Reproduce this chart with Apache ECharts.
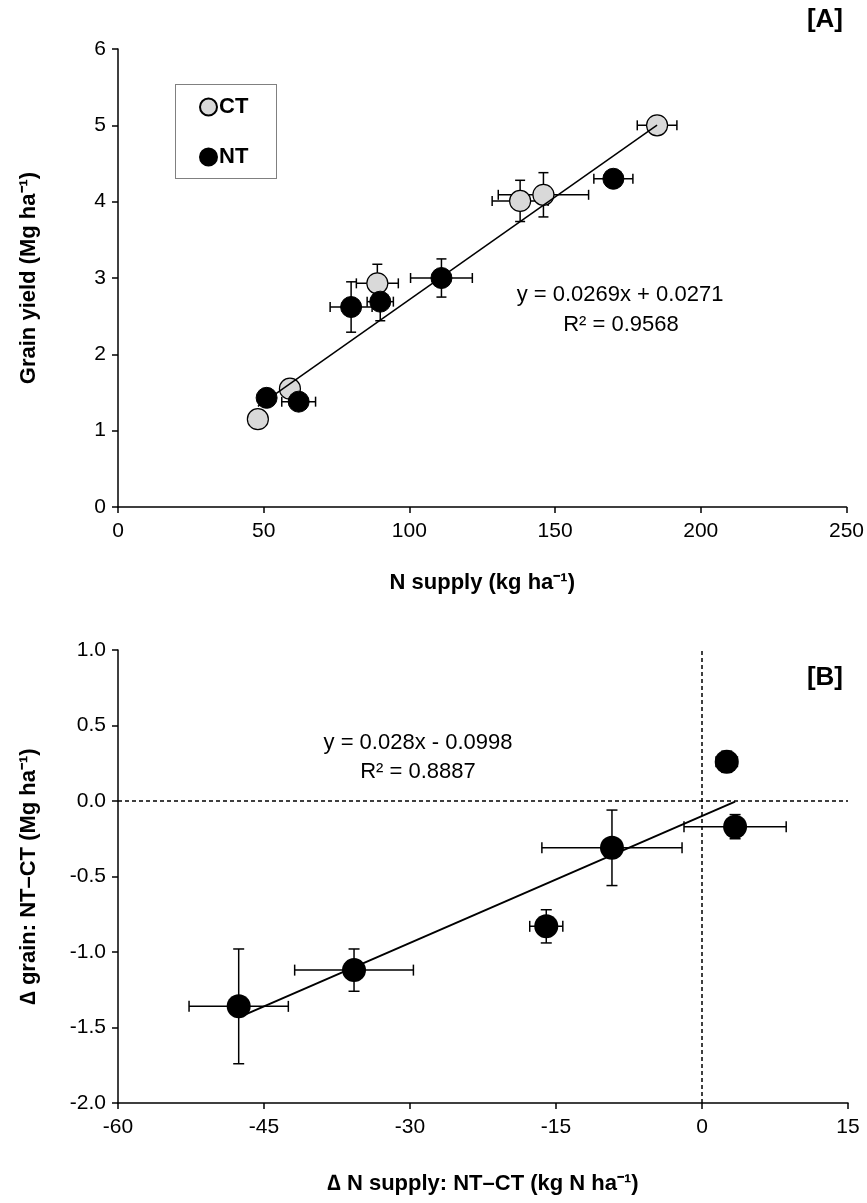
<!DOCTYPE html>
<html>
<head>
<meta charset="utf-8">
<script src="https://cdn.jsdelivr.net/npm/echarts@6/dist/echarts.min.js"></script>
<style>
	html, body { margin: 0; padding: 0; background: #fff; }
	#main { width: 867px; height: 1203px; }
</style>
</head>
<body>
<div id="main"></div>
<script>
	// [A] grain yield vs N supply
	const ctSupply = [48, 59, 89, 138, 146, 185];
	const ctYield = [1.15, 1.55, 2.93, 4.01, 4.09, 5.0];
	const ctSupplyErr = [0, 0, 7.2, 9.6, 15.5, 6.8];
	const ctYieldErr = [0, 0, 0.25, 0.27, 0.29, 0];
	const ntSupply = [51, 62, 80, 90, 111, 170];
	const ntYield = [1.43, 1.38, 2.62, 2.69, 3.0, 4.3];
	const ntSupplyErr = [0, 5.8, 7.2, 4.5, 10.6, 6.7];
	const ntYieldErr = [0, 0.05, 0.33, 0.25, 0.25, 0.08];
	const fitA = { slope: 0.0269, intercept: 0.0271, r2: '0.9568' };

	// [B] NT-CT differences
	const dSupply = [-47.6, -35.75, -16, -9.25, 2.54, 3.4];
	const dGrain = [-1.36, -1.12, -0.83, -0.31, 0.26, -0.17];
	const dSupplyErr = [5.1, 6.1, 1.7, 7.2, 1.1, 5.25];
	const dGrainErr = [0.38, 0.14, 0.11, 0.25, 0.07, 0.08];
	const fitB = { slope: 0.028, intercept: -0.0998, r2: '0.8887' };

	const FONT = '"Liberation Sans", Arial, sans-serif';

	function zip(xs, ys, ex, ey) {
		return xs.map((v, i) => [v, ys[i], ex[i], ey[i]]);
	}

	// 趋势线两端点
	function fitLine(fit, xs) {
		let a = Math.min(...xs), b = Math.max(...xs);
		return [[a, fit.slope * a + fit.intercept], [b, fit.slope * b + fit.intercept]];
	}

	// 误差线
	function errRender(cap, width) {
		return function (params, api) {
			let x = api.value(0), y = api.value(1), ex = api.value(2), ey = api.value(3);
			let st = { stroke: '#000', lineWidth: width };
			let kids = [];
			if (ex > 0) {
				let l = api.coord([x - ex, y]), r = api.coord([x + ex, y]);
				kids.push({ type: 'line', shape: { x1: l[0], y1: l[1], x2: r[0], y2: r[1] }, style: st });
				kids.push({ type: 'line', shape: { x1: l[0], y1: l[1] - cap, x2: l[0], y2: l[1] + cap }, style: st });
				kids.push({ type: 'line', shape: { x1: r[0], y1: r[1] - cap, x2: r[0], y2: r[1] + cap }, style: st });
			}
			if (ey > 0) {
				let t = api.coord([x, y + ey]), b = api.coord([x, y - ey]);
				kids.push({ type: 'line', shape: { x1: t[0], y1: t[1], x2: b[0], y2: b[1] }, style: st });
				kids.push({ type: 'line', shape: { x1: t[0] - cap, y1: t[1], x2: t[0] + cap, y2: t[1] }, style: st });
				kids.push({ type: 'line', shape: { x1: b[0] - cap, y1: b[1], x2: b[0] + cap, y2: b[1] }, style: st });
			}
			return { type: 'group', children: kids };
		};
	}

	function axisBase(extra) {
		return Object.assign({
			type: 'value',
			axisLine: { onZero: false, lineStyle: { color: '#000', width: 1.5 } },
			axisTick: { inside: false, length: 6, lineStyle: { color: '#000', width: 1.5 } },
			splitLine: { show: false },
			nameLocation: 'middle',
			nameTextStyle: { color: '#000', fontSize: 22, fontWeight: 'bold', fontFamily: FONT }
		}, extra);
	}

	let tickFont = { color: '#000', fontSize: 21, fontFamily: FONT };

	let option = {
		backgroundColor: '#fff',
		animation: false,
		textStyle: { fontFamily: FONT },
		grid: [
			{ left: 118, right: 19, top: 49, height: 458 },
			{ left: 118, right: 19, top: 650, height: 453 }
		],
		xAxis: [
			axisBase({ gridIndex: 0, min: 0, max: 250, interval: 50, name: 'N supply (kg ha⁻¹)', nameGap: 65,
				axisLabel: Object.assign({ margin: 14 }, tickFont) }),
			axisBase({ gridIndex: 1, min: -60, max: 15, interval: 15, name: '∆ N supply: NT–CT (kg N ha⁻¹)', nameGap: 70,
				axisLabel: Object.assign({ margin: 14 }, tickFont) })
		],
		yAxis: [
			axisBase({ gridIndex: 0, min: 0, max: 6, interval: 1, name: 'Grain yield (Mg ha⁻¹)', nameGap: 78,
				axisLabel: Object.assign({ margin: 12 }, tickFont) }),
			axisBase({ gridIndex: 1, min: -2, max: 1, interval: 0.5, name: '∆ grain: NT–CT (Mg ha⁻¹)', nameGap: 78,
				axisLabel: Object.assign({ margin: 12, formatter: v => v.toFixed(1) }, tickFont) })
		],
		legend: {
			data: ['CT', 'NT'],
			orient: 'vertical',
			left: 194,
			top: 91,
			itemWidth: 17,
			itemHeight: 17,
			itemGap: 28,
			textStyle: { color: '#000', fontSize: 22, fontWeight: 'bold', fontFamily: FONT, lineHeight: 22, padding: [0, 0, 0, -3] }
		},
		graphic: [
			{ type: 'rect', left: 173, top: 82, shape: { width: 101, height: 94 },
				style: { fill: 'none', stroke: '#000', lineWidth: 1, lineDash: [1, 1] } },
			{ type: 'text', x: 843, y: 20, style: { text: '[A]', font: 'bold 26px ' + FONT, fill: '#000', align: 'right', verticalAlign: 'middle' } },
			{ type: 'text', x: 843, y: 678, style: { text: '[B]', font: 'bold 26px ' + FONT, fill: '#000', align: 'right', verticalAlign: 'middle' } },
			{ type: 'text', x: 620, y: 295, style: { text: 'y = ' + fitA.slope + 'x + ' + fitA.intercept, font: '22px ' + FONT, fill: '#000', align: 'center', verticalAlign: 'middle' } },
			{ type: 'text', x: 621, y: 325, style: { text: 'R² = ' + fitA.r2, font: '22px ' + FONT, fill: '#000', align: 'center', verticalAlign: 'middle' } },
			{ type: 'text', x: 418, y: 743, style: { text: 'y = ' + fitB.slope + 'x - ' + Math.abs(fitB.intercept), font: '22px ' + FONT, fill: '#000', align: 'center', verticalAlign: 'middle' } },
			{ type: 'text', x: 418, y: 772, style: { text: 'R² = ' + fitB.r2, font: '22px ' + FONT, fill: '#000', align: 'center', verticalAlign: 'middle' } }
		],
		series: [
			{
				type: 'custom', xAxisIndex: 0, yAxisIndex: 0, z: 2, silent: true,
				renderItem: errRender(5, 1.5),
				encode: { x: 0, y: 1 },
				data: zip(ctSupply, ctYield, ctSupplyErr, ctYieldErr).concat(zip(ntSupply, ntYield, ntSupplyErr, ntYieldErr))
			},
			{
				name: 'CT', type: 'scatter', xAxisIndex: 0, yAxisIndex: 0, z: 3,
				symbol: 'circle', symbolSize: 21,
				itemStyle: { color: '#d9d9d9', borderColor: '#000', borderWidth: 1.2, opacity: 1 },
				data: ctSupply.map((v, i) => [v, ctYield[i]])
			},
			{
				name: 'NT', type: 'scatter', xAxisIndex: 0, yAxisIndex: 0, z: 3,
				symbol: 'circle', symbolSize: 21,
				itemStyle: { color: '#000', borderColor: '#000', borderWidth: 1, opacity: 1 },
				data: ntSupply.map((v, i) => [v, ntYield[i]])
			},
			{
				type: 'line', xAxisIndex: 0, yAxisIndex: 0, z: 4, silent: true,
				showSymbol: false, symbol: 'none',
				lineStyle: { color: '#000', width: 1.5 },
				data: fitLine(fitA, ctSupply.concat(ntSupply))
			},
			{
				type: 'custom', xAxisIndex: 1, yAxisIndex: 1, z: 2, silent: true,
				renderItem: errRender(5.5, 1.5),
				encode: { x: 0, y: 1 },
				data: zip(dSupply, dGrain, dSupplyErr, dGrainErr)
			},
			{
				type: 'scatter', xAxisIndex: 1, yAxisIndex: 1, z: 3,
				symbol: 'circle', symbolSize: 24,
				itemStyle: { color: '#000', opacity: 1 },
				data: dSupply.map((v, i) => [v, dGrain[i]])
			},
			{
				type: 'line', xAxisIndex: 1, yAxisIndex: 1, z: 4, silent: true,
				showSymbol: false, symbol: 'none',
				lineStyle: { color: '#000', width: 2 },
				data: fitLine(fitB, dSupply),
				markLine: {
					silent: true,
					symbol: ['none', 'none'],
					label: { show: false },
					lineStyle: { color: '#000', width: 1.5, type: [4, 3] },
					data: [{ yAxis: 0 }, { xAxis: 0 }]
				}
			}
		]
	};

	let myChart = echarts.init(document.getElementById('main'));
	myChart.setOption(option);
</script>
</body>
</html>
